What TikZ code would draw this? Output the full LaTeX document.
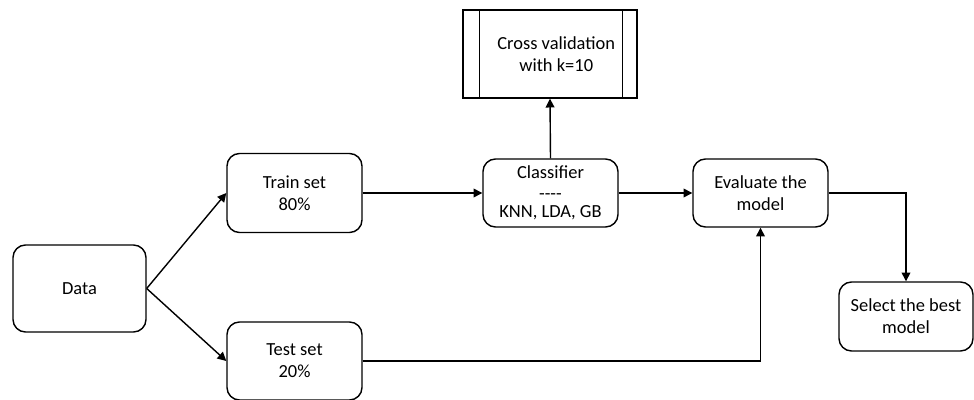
\documentclass[tikz,border=0pt]{standalone}
\usepackage{fontspec}
\setmainfont{Carlito}
\usetikzlibrary{arrows.meta}
\begin{document}
\begin{tikzpicture}[boxStyle/.style={rectangle, draw, rounded corners=0.25cm, line width=0.8pt, align=center, inner sep=1pt, font=\fontsize{10.5}{12.5}\selectfont},
                    procStyle/.style={rectangle, draw, line width=0.8pt, align=center, inner sep=1pt, font=\fontsize{10.5}{12.5}\selectfont},
                    arrowStyle/.style={line width=0.8pt, -{Triangle[length=5pt, width=5pt]}}]
    \useasboundingbox (0,0) rectangle (19.48,-8);
    \node[boxStyle, minimum width=2.66cm, minimum height=1.74cm] (data)  at ( 1.59, -5.77) {Data};
    \node[boxStyle, minimum width=2.70cm, minimum height=1.58cm] (train) at ( 5.89, -3.86) {Train set\\80\%};
    \node[boxStyle, minimum width=2.70cm, minimum height=1.56cm] (test)  at ( 5.89, -7.22) {Test set\\20\%};
    \node[boxStyle, minimum width=2.70cm, minimum height=1.36cm] (clf)   at (11.01, -3.86) {Classifier\\[-1pt]{-}{-}{-}{-}\\[-2pt]KNN, LDA, GB};
    \node[boxStyle, minimum width=2.70cm, minimum height=1.36cm] (eval)  at (15.21, -3.86) {Evaluate the\\model};
    \node[boxStyle, minimum width=2.68cm, minimum height=1.38cm] (best)  at (18.12, -6.33) {Select the best\\model};
    \node[procStyle, minimum width=3.48cm, minimum height=1.76cm] (cv)   at (11.00, -1.08) {\hspace*{0.25cm}Cross validation\\\hspace*{0.25cm}with k=10};
    % side bars of the process box
    \draw[line width=0.8pt] ([xshift=0.34cm]cv.north west) -- ([xshift=0.34cm]cv.south west);
    \draw[line width=0.8pt] ([xshift=-0.30cm]cv.north east) -- ([xshift=-0.30cm]cv.south east);
    % connectors
    \draw[arrowStyle] (data.east) -- (train.west);
    \draw[arrowStyle] (data.east) -- (test.west);
    \draw[arrowStyle] (train.east) -- (clf.west);
    \draw[arrowStyle] (clf.north) -- (cv.south);
    \draw[arrowStyle] (clf.east) -- (eval.west);
    \draw[arrowStyle] (test.east) -| (eval.south);
    \draw[arrowStyle] (eval.east) -| (best.north);
\end{tikzpicture}
\end{document}
